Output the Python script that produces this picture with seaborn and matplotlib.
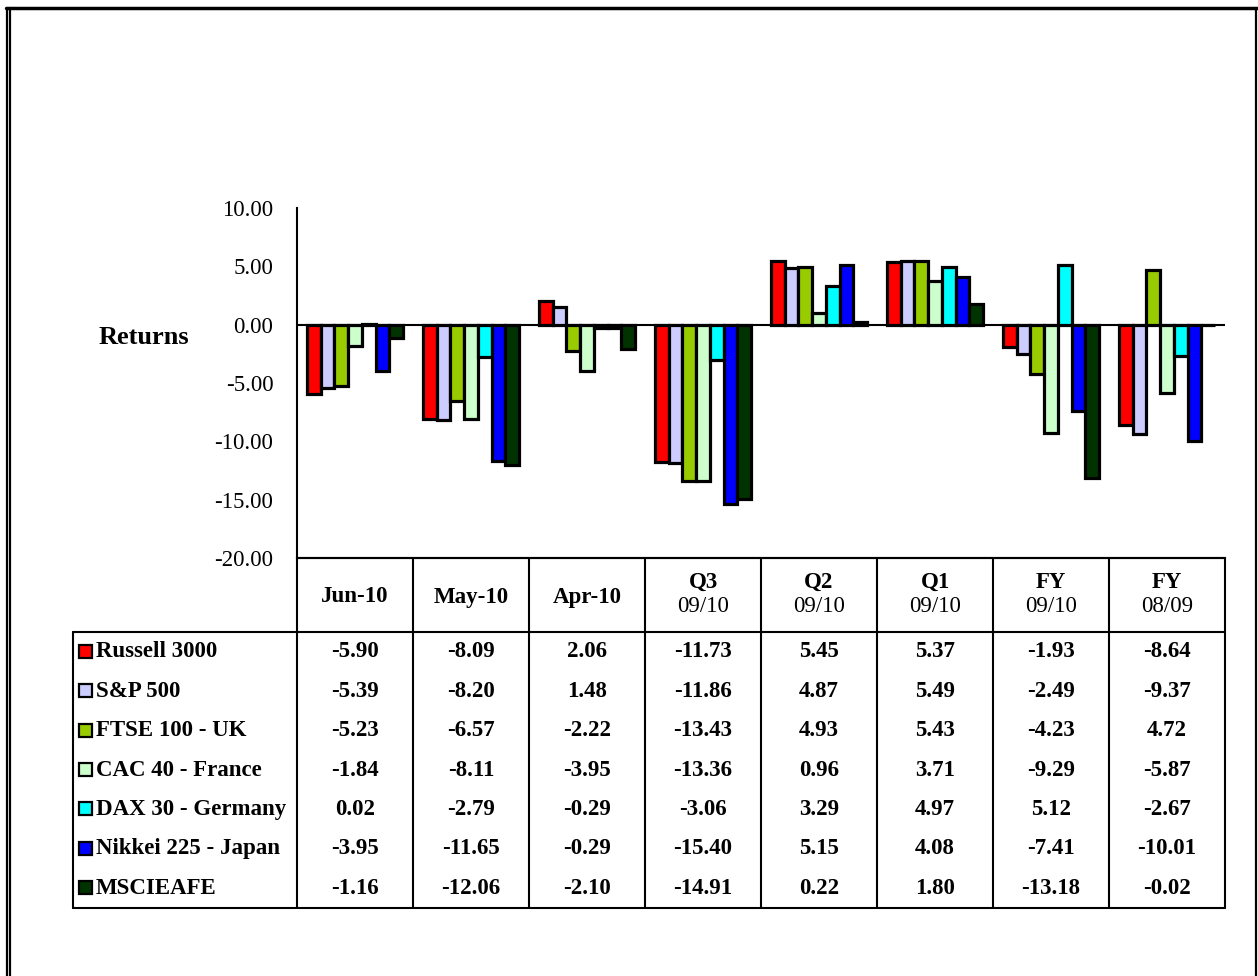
import numpy as np
import pandas as pd
import matplotlib
matplotlib.use("Agg")
import matplotlib.pyplot as plt
from matplotlib.patches import Rectangle
import seaborn as sns

periods = ["Jun-10", "May-10", "Apr-10", "Q3\n09/10", "Q2\n09/10", "Q1\n09/10", "FY\n09/10", "FY\n08/09"]
series_names = ["Russell 3000", "S&P 500", "FTSE 100 - UK", "CAC 40 - France",
                "DAX 30 - Germany", "Nikkei 225 - Japan", "MSCIEAFE"]
russell = [-5.90, -8.09, 2.06, -11.73, 5.45, 5.37, -1.93, -8.64]
sp500 = [-5.39, -8.20, 1.48, -11.86, 4.87, 5.49, -2.49, -9.37]
ftse = [-5.23, -6.57, -2.22, -13.43, 4.93, 5.43, -4.23, 4.72]
cac = [-1.84, -8.11, -3.95, -13.36, 0.96, 3.71, -9.29, -5.87]
dax = [0.02, -2.79, -0.29, -3.06, 3.29, 4.97, 5.12, -2.67]
nikkei = [-3.95, -11.65, -0.29, -15.40, 5.15, 4.08, -7.41, -10.01]
msci = [-1.16, -12.06, -2.10, -14.91, 0.22, 1.80, -13.18, -0.02]
colors = ["#FF0000", "#CCCCFF", "#99CC00", "#CCFFCC", "#00FFFF", "#0000FF", "#003300"]
yticks = [10, 5, 0, -5, -10, -15, -20]

all_series = [russell, sp500, ftse, cac, dax, nikkei, msci]
rows = []
for name, vals in zip(series_names, all_series):
    for p, v in zip(periods, vals):
        rows.append({"period": p, "series": name, "value": v})
df = pd.DataFrame(rows)

sns.set_theme(style="white")
plt.rcParams["font.family"] = ["Liberation Serif", "DejaVu Serif"]
plt.rcParams["text.color"] = "black"
plt.rcParams["axes.labelcolor"] = "black"
plt.rcParams["xtick.color"] = "black"
plt.rcParams["ytick.color"] = "black"

W, H = 1258, 976
FS = 16.5
fig = plt.figure(figsize=(W / 100, H / 100), dpi=100)

def fx(px):
    return px / W

def fy(py):
    return 1 - py / H

# main chart area
left, right, top, bottom = 297, 1225, 208, 558
ax = fig.add_axes([fx(left), fy(bottom), fx(right - left), (bottom - top) / H])
sns.barplot(data=df, x="period", y="value", hue="series", hue_order=series_names,
            order=periods, palette=colors, width=0.83, edgecolor="black",
            linewidth=2.3, legend=False, ax=ax, saturation=1)
ax.set_xlim(-0.5, len(periods) - 0.5)
ax.set_ylim(-20, 10)
ax.set_yticks(yticks)
ax.set_yticklabels([f"{t:.2f}" for t in yticks], fontsize=FS, color="black")
ax.set_xticks([])
ax.set_xlabel("")
ax.set_ylabel("")
ax.axhline(0, color="black", lw=1.5, zorder=0.5)
for s in ["top", "right"]:
    ax.spines[s].set_visible(False)
ax.spines["left"].set_linewidth(1.5)
ax.spines["left"].set_color("black")
ax.spines["bottom"].set_linewidth(1.5)
ax.spines["bottom"].set_color("black")
ax.tick_params(axis="y", direction="out", length=7, width=1.5, color="black", pad=10)
ax.set_facecolor("none")

fig.text(fx(99), fy(338), "Returns", fontsize=19, fontweight="bold", ha="left", va="center")

# data table
tx0, tx1, ty0, ty1 = 73, 1225, 558, 908
tax = fig.add_axes([fx(tx0), fy(ty1), fx(tx1 - tx0), (ty1 - ty0) / H])
tax.set_xlim(tx0, tx1)
tax.set_ylim(ty1, ty0)
tax.axis("off")
ncol = len(periods)
colw = (right - left) / ncol
header_bottom = 632
lw = 1.5
tax.plot([left, right], [ty0, ty0], color="black", lw=lw, clip_on=False)
tax.plot([tx0, right], [header_bottom, header_bottom], color="black", lw=lw, clip_on=False)
tax.plot([tx0, right], [ty1, ty1], color="black", lw=lw, clip_on=False)
tax.plot([tx0, tx0], [header_bottom, ty1], color="black", lw=lw, clip_on=False)
for k in range(ncol + 1):
    xk = left + k * colw
    tax.plot([xk, xk], [ty0, ty1], color="black", lw=lw, clip_on=False)

for k, p in enumerate(periods):
    xc = left + (k + 0.5) * colw
    parts = p.split("\n")
    if len(parts) == 1:
        tax.text(xc, 597, parts[0], ha="center", va="center", fontsize=FS, fontweight="bold")
    else:
        tax.text(xc, 582, parts[0], ha="center", va="center", fontsize=FS, fontweight="bold")
        tax.text(xc, 607, parts[1], ha="center", va="center", fontsize=FS)

rowh = (ty1 - header_bottom) / len(series_names)
for i, (name, vals, c) in enumerate(zip(series_names, all_series, colors)):
    yc = header_bottom + (i + 0.5) * rowh
    tax.add_patch(Rectangle((79, yc - 7), 13, 13, facecolor=c, edgecolor="black", lw=1.6, clip_on=False))
    tax.text(96, yc, name, ha="left", va="center", fontsize=FS, fontweight="bold")
    for k, v in enumerate(vals):
        xc = left + (k + 0.5) * colw
        tax.text(xc, yc, f"{v:.2f}", ha="center", va="center", fontsize=FS, fontweight="bold")

# outer frame
frame_ax = fig.add_axes([0, 0, 1, 1], zorder=-1)
frame_ax.set_xlim(0, W)
frame_ax.set_ylim(H, 0)
frame_ax.axis("off")
frame_ax.plot([6, 1257], [8, 8], color="black", lw=2.5)
frame_ax.plot([6.5, 6.5], [8, H], color="black", lw=1.6)
frame_ax.plot([10, 10], [8, H], color="black", lw=1.6)
frame_ax.plot([1256, 1256], [8, H], color="black", lw=1.6)

fig.savefig("out.png", dpi=100, facecolor="white")
